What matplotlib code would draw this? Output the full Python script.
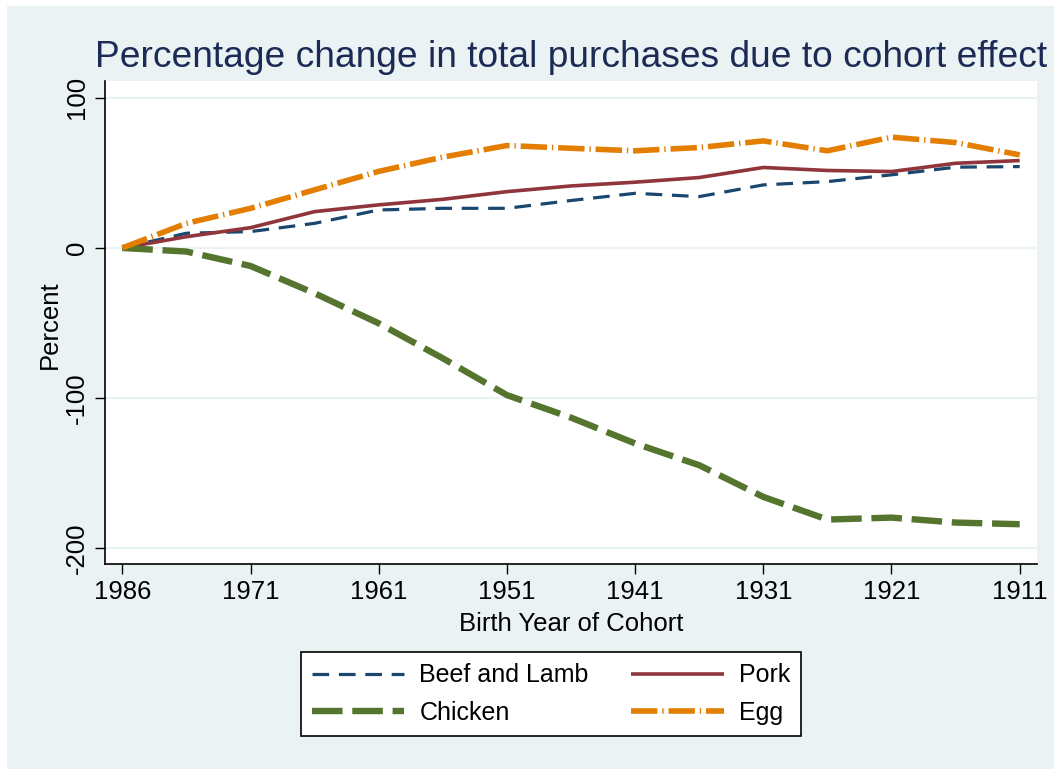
import matplotlib
matplotlib.use("Agg")
import matplotlib.pyplot as plt
from matplotlib.patches import Rectangle
import numpy as np

plt.rcParams["font.family"] = ["Liberation Sans", "DejaVu Sans"]
plt.rcParams["lines.scale_dashes"] = False

# cohorts, oldest to the right (one point per cohort, labelled every other one)
tick_labels = ["1986", "1971", "1961", "1951", "1941", "1931", "1921", "1911"]
n_cohorts = 15

beef = [0, 9.8, 10.9, 16.4, 25.3, 26.4, 26.4, 31.6, 36.4, 34.2, 42.0, 44.2, 48.7, 53.8, 54.2]
pork = [0, 7.5, 13.5, 24.2, 28.7, 32.4, 37.5, 41.3, 43.8, 46.9, 53.6, 51.6, 50.9, 56.4, 58.2]
chicken = [0, -2.4, -12.0, -30.2, -50.2, -73.5, -98.0, -113.0, -130.2, -144.7, -165.8,
           -180.9, -179.6, -182.9, -184.0]
egg = [0, 16.4, 26.4, 38.7, 51.0, 60.5, 68.2, 66.4, 64.7, 66.9, 71.3, 64.7, 73.8, 70.2, 62.0]

series = ["Beef and Lamb", "Pork", "Chicken", "Egg"]

BG = "#eaf2f3"
W, H = 1054, 769

fig = plt.figure(figsize=(W / 100, H / 100), dpi=100, facecolor="white")
fig.add_artist(Rectangle((7 / W, 0), 1 - 7 / W, 1 - 6 / H, transform=fig.transFigure,
                         facecolor=BG, edgecolor="none", zorder=-10))

ax = fig.add_axes([105 / W, 1 - 564 / H, (1037 - 105) / W, (564 - 81) / H])
ax.set_facecolor("white")

x = np.arange(n_cohorts)
styles = [
    dict(color="#1a476f", lw=2.3, dashes=(12, 7)),
    dict(color="#90353b", lw=2.6, linestyle="-"),
    dict(color="#55752f", lw=4.6, dashes=(22, 7)),
    dict(color="#e37e00", lw=4.0, dashes=(19, 3.5, 1.0, 3.5)),
]
lines = []
for vals, lab, st in zip([beef, pork, chicken, egg], series, styles):
    ln, = ax.plot(x, vals, label=lab, solid_capstyle="butt", dash_capstyle="butt", **st)
    lines.append(ln)

ax.set_xlim(-0.27, n_cohorts - 1 + 0.27)
ax.set_ylim(-210.5, 111.2)
ax.set_xticks(x[::2])
ax.set_xticklabels(tick_labels)
ax.set_yticks([-200, -100, 0, 100])
ax.set_yticklabels(["-200", "-100", "0", "100"], rotation=90, va="center")

for v in [-200, -100, 0, 100]:
    ax.axhline(v, color=BG, lw=1.6, zorder=0)

for s in ["top", "right"]:
    ax.spines[s].set_visible(False)
for s in ["left", "bottom"]:
    ax.spines[s].set_linewidth(1.2)
    ax.spines[s].set_color("black")

ax.tick_params(axis="both", length=7.5, width=1.0, labelsize=18.5, colors="black")
ax.tick_params(axis="y", pad=4)
ax.tick_params(axis="x", pad=4)

ax.set_xlabel("Birth Year of Cohort", fontsize=18.5, labelpad=6)
fig.text(50 / W, 1 - 325 / H, "Percent", rotation=90, ha="center", va="center", fontsize=18.5)

fig.text(571 / W, 1 - 67 / H, "Percentage change in total purchases due to cohort effect",
         ha="center", va="baseline", fontsize=26.7, color="#1c2b55")

# row-wise legend order: Beef, Pork / Chicken, Egg
order = [0, 2, 1, 3]
leg = fig.legend([lines[i] for i in order], [series[i] for i in order],
                 loc="upper center", bbox_to_anchor=(551 / W, 1 - 652 / H), ncol=2,
                 fontsize=18, frameon=True, fancybox=False, edgecolor="black",
                 facecolor="white", framealpha=1, handlelength=3.7, handletextpad=0.6,
                 columnspacing=1.7, borderpad=0.45, labelspacing=0.55, borderaxespad=0)
leg.get_frame().set_linewidth(1.2)

fig.savefig("out.png", dpi=100, facecolor=fig.get_facecolor())
